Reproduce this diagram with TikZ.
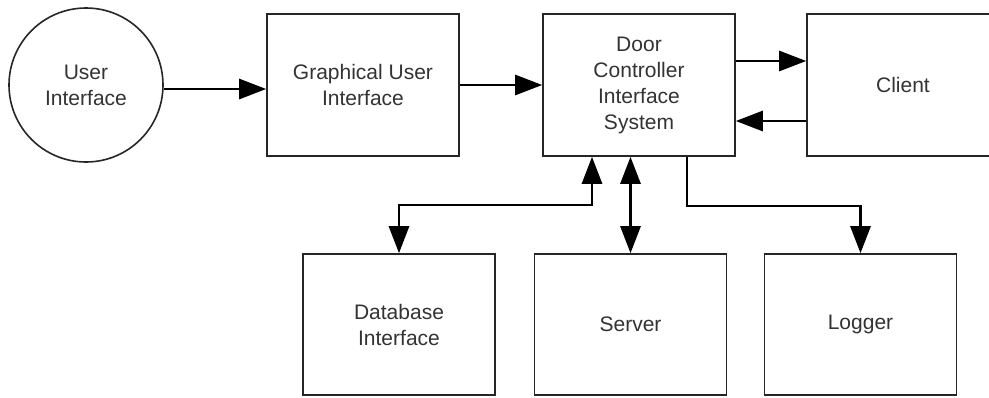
\documentclass[tikz,border=0pt]{standalone}
\usepackage{fontspec}
\setmainfont{Liberation Sans}
\usetikzlibrary{arrows.meta}
\begin{document}
\begin{tikzpicture}[x=1pt,y=-1pt,
  block/.style={draw=black!85, line width=1.6pt, fill=white, minimum width=192pt,
    minimum height=142pt, align=center, inner sep=0pt, text=black!80,
    font=\fontsize{21}{26}\selectfont},
  lowblock/.style={block, minimum height=141pt},
  bubble/.style={draw=black!85, line width=1.6pt, circle, minimum size=154pt,
    align=center, inner sep=0pt, text=black!80, font=\fontsize{21}{26}\selectfont},
  link/.style={draw=black, line width=2.8pt, -{Triangle[length=27pt,width=20pt]}},
  duplex/.style={draw=black, line width=2.8pt,
    {Triangle[length=27pt,width=20pt]}-{Triangle[length=27pt,width=20pt]}}
]
\clip (0,0) rectangle (989,397);
\useasboundingbox (0,0) rectangle (989,397);

% top row
\node[bubble] (ui) at (86,85) {User\\Interface};
\node[block] (gui) at (363,85) {Graphical User\\Interface};
\node[block] (dcis) at (639,85) {Door\\Controller\\Interface\\System};
\node[block] (client) at (903,85) {Client};

% bottom row
\node[lowblock] (db) at (399,324.5) {Database\\Interface};
\node[lowblock] (srv) at (630.5,324.5) {Server};
\node[lowblock] (log) at (860.5,324.5) {Logger};

% routing points below the controller
\coordinate (dbup) at ([xshift=-47pt]dcis.south);
\coordinate (logdn) at ([xshift=48pt]dcis.south);
\coordinate (dbbendA) at (dbup |- 0,205);
\coordinate (dbbendB) at (db.north |- 0,205);
\coordinate (logbendA) at (logdn |- 0,206);
\coordinate (logbendB) at (log.north |- 0,206);

% horizontal links
\draw[link] ([yshift=-4pt]ui.east) -- ([yshift=-4pt]gui.west);
\draw[link] (gui.east) -- (dcis.west);
\draw[link] ([yshift=24pt]dcis.east) -- ([yshift=24pt]client.west);
\draw[link] ([yshift=-36pt]client.west) -- ([yshift=-36pt]dcis.east);

% vertical links
\draw[duplex] (dbup) -- (dbbendA) -- (dbbendB) -- (db.north);
\draw[duplex] (srv.north |- dcis.south) -- (srv.north);
\draw[link] (logdn) -- (logbendA) -- (logbendB) -- (log.north);
\end{tikzpicture}
\end{document}
